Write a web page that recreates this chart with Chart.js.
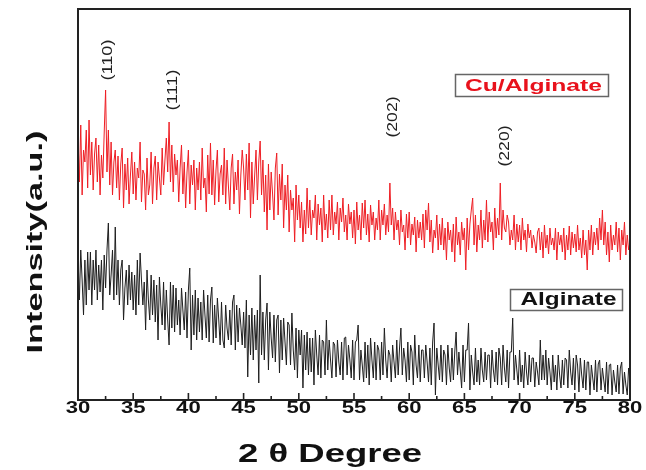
<!DOCTYPE html>
<html>
<head>
<meta charset="utf-8">
<script src="https://cdn.jsdelivr.net/npm/chart.js@4/dist/chart.umd.min.js"></script>
<style>
html,body{margin:0;padding:0;background:#fff;}
#wrap{width:646px;height:470px;}
</style>
</head>
<body>
<div id="wrap"><canvas id="c" width="646" height="470"></canvas></div>
<script>
// scan grid (2θ, degrees)
const scanStart = 30;
const scanStep = 0.125;

// Cu/Alginate intensity (a.u., offset trace) — 8 readings per degree
const cuAlginate = [
262,218,275,205,250,238,270,212, 280,225,258,210,246,262,218,255,
205,245,222,268,310,228,270,215, 258,205,238,250,212,244,200,236,
252,192,236,210,242,196,225,248, 206,238,200,232,222,258,198,230,
226,190,242,205,215,248,196,232, 244,200,238,222,205,252,215,240,
262,228,278,218,255,208,246,225, 240,198,232,255,206,238,192,228,
250,196,235,215,240,190,232,210, 238,200,252,212,222,188,245,206,
257,205,240,195,230,250,198,226, 235,205,252,196,240,214,190,232,
246,196,228,210,240,186,225,250, 232,200,246,210,257,182,238,196,
224,250,200,238,259,205,240,188, 225,170,236,190,228,206,180,232,
247,185,226,200,236,172,215,190, 225,168,210,190,202,158,215,180,
205,172,198,158,190,166,212,172, 200,165,190,182,205,160,196,175,
192,158,205,170,186,162,200,170, 205,165,188,176,198,160,192,178,
202,168,185,160,196,176,188,162, 190,156,198,170,185,160,197,172,
200,165,186,158,195,175,188,160, 182,170,200,160,190,175,196,165,
185,168,217,175,192,160,188,170, 180,155,190,168,175,150,186,162,
188,155,176,165,183,148,180,162, 178,160,186,152,190,170,197,158,
180,147,170,162,185,150,176,155, 182,150,172,140,178,160,170,148,
176,138,183,155,168,145,178,160, 172,130,182,150,176,190,202,155,
185,148,175,160,190,152,180,160, 200,158,188,168,178,150,192,162,
182,165,217,160,190,172,168,185, 178,155,170,160,185,150,176,158,
175,150,182,160,170,148,176,162, 170,152,165,158,147,168,172,150,
168,142,175,152,165,146,172,155, 162,150,172,140,168,155,165,148,
172,140,165,150,174,145,168,152, 166,148,175,150,162,142,170,145,
160,130,170,150,175,145,168,155, 172,150,182,160,190,155,178,145,
168,138,175,150,165,155,178,148, 172,140,170,155,178,145,165,150,
158
];

// Alginate intensity (a.u.) — 8 readings per degree
const alginate = [
145,100,150,120,85,140,95,148, 110,148,95,140,110,150,100,135,
108,140,90,145,112,150,177,105, 125,150,100,173,105,140,95,130,
140,80,112,130,95,135,100,128, 90,125,85,140,95,147,120,95,
118,70,130,100,80,125,85,120, 78,115,60,123,95,75,118,70,
110,80,55,118,72,115,68,112, 75,100,65,112,90,70,108,62,
110,132,50,105,65,110,60,102, 68,98,60,110,85,62,105,58,
100,113,57,95,62,102,80,55, 98,60,52,95,72,60,90,55,
98,105,50,95,58,92,75,55, 88,52,100,23,85,45,92,40,
85,50,90,17,125,45,88,40, 80,97,30,88,62,42,85,38,
80,85,27,80,40,82,58,35, 78,75,35,87,50,30,72,22,
70,45,70,12,65,30,68,25, 62,28,62,15,70,45,25,65,
22,60,58,25,80,30,60,40, 22,58,55,23,60,38,25,58,
20,62,63,25,55,40,22,60, 20,58,60,75,20,50,35,18,
58,22,55,15,62,40,22,58, 20,55,50,20,58,25,72,40,
22,50,45,18,55,38,22,60, 25,52,72,25,52,40,18,58,
20,55,48,15,65,35,22,55, 18,50,50,22,55,38,18,52,
15,58,77,5,52,35,20,55, 18,50,45,15,55,32,18,52,
20,48,68,25,48,30,12,55, 18,50,50,77,10,45,28,15,
52,18,40,15,52,30,18,48, 20,45,45,12,50,30,18,48,
15,52,42,15,55,32,18,50, 12,48,48,82,20,45,30,15,
50,18,35,12,48,28,15,45, 18,42,42,13,38,28,15,60,
20,45,20,50,15,42,28,10, 45,18,35,10,45,25,12,40,
15,42,40,12,50,28,15,42, 10,45,35,8,42,25,12,40,
10,38,38,5,35,22,10,40, 8,36,40,10,32,20,8,38,
6,35,36,5,30,18,8,35, 6,32,38,6,28,15,5,32,
20
];

const xTicks = [30,35,40,45,50,55,60,65,70,75,80];
const xMinorTicks = [32.5,37.5,42.5,47.5,52.5,57.5,62.5,67.5,72.5,77.5];
const peakLabels = ['(110)','(111)','(202)','(220)'];
const peakAngles = [32.7, 38.6, 58.5, 68.7];
const seriesNames = ['Cu/Alginate','Alginate'];
const xTitle = '2 \u03b8 Degree';
const yTitle = 'Intensity(a.u.)';

const toPoints = arr => arr.map((v,i) => ({x: scanStart + i*scanStep, y: v}));

function fitText(ctx, text, cx, cy, font, opts) {
  ctx.save();
  ctx.font = font;
  const w = ctx.measureText(text).width;
  let sx = opts.sx || 1;
  if (opts.width) sx = opts.width / w;
  ctx.translate(cx, cy);
  if (opts.rot) ctx.rotate(opts.rot);
  ctx.scale(sx, 1);
  ctx.textAlign = 'center';
  ctx.textBaseline = 'middle';
  ctx.fillStyle = opts.color || '#111';
  ctx.fillText(text, 0, 0);
  ctx.restore();
}

const decor = {
  id: 'decor',
  afterDraw(chart) {
    const ctx = chart.ctx;
    const a = chart.chartArea;
    const xs = chart.scales.x, ys = chart.scales.y;
    const F = '"Liberation Sans", Arial, sans-serif';
    ctx.save();
    ctx.strokeStyle = '#222';
    ctx.lineWidth = 2;
    ctx.strokeRect(a.left, a.top, a.right - a.left, a.bottom - a.top);
    ctx.lineWidth = 1.6;
    ctx.beginPath();
    xTicks.forEach(t => { const p = xs.getPixelForValue(t); ctx.moveTo(p, a.bottom); ctx.lineTo(p, a.bottom - 7); });
    xMinorTicks.forEach(t => { const p = xs.getPixelForValue(t); ctx.moveTo(p, a.bottom); ctx.lineTo(p, a.bottom - 4); });
    ctx.stroke();
    ctx.restore();
    xTicks.forEach(t => fitText(ctx, String(t), xs.getPixelForValue(t), a.bottom + 9, 'bold 16px ' + F, {sx: 1.38}));
    fitText(ctx, xTitle, 330, 455, 'bold 25px ' + F, {width: 184});
    fitText(ctx, yTitle, 36, 242, 'bold 22px ' + F, {width: 223, rot: -Math.PI/2});
    const labelY = [340, 310, 283, 254];
    peakLabels.forEach((s, i) => {
      fitText(ctx, s, xs.getPixelForValue(peakAngles[i]), ys.getPixelForValue(labelY[i]), '15px ' + F, {width: 41, rot: -Math.PI/2, color: '#222'});
    });
    ctx.save();
    ctx.strokeStyle = '#666';
    ctx.lineWidth = 1.5;
    ctx.strokeRect(455.5, 74.5, 153, 22);
    ctx.strokeRect(510.5, 289.5, 112, 21);
    ctx.restore();
    fitText(ctx, seriesNames[0], 533.5, 86, 'bold 17px ' + F, {width: 137, color: 'rgb(232,18,28)'});
    fitText(ctx, seriesNames[1], 568.5, 300, 'bold 18px ' + F, {width: 96, color: '#111'});
  }
};

new Chart(document.getElementById('c'), {
  type: 'line',
  data: {
    datasets: [
      {label: seriesNames[0], data: toPoints(cuAlginate), borderColor: 'rgb(238,30,36)', borderWidth: 1, pointRadius: 0, tension: 0, fill: false},
      {label: seriesNames[1], data: toPoints(alginate), borderColor: 'rgb(30,30,30)', borderWidth: 1, pointRadius: 0, tension: 0, fill: false}
    ]
  },
  options: {
    responsive: false,
    animation: false,
    layout: {padding: {left: 78, right: 16, top: 9, bottom: 70}},
    plugins: {legend: {display: false}, tooltip: {enabled: false}},
    scales: {
      x: {type: 'linear', min: 30, max: 80, display: false},
      y: {type: 'linear', min: 0, max: 391, display: false}
    }
  },
  plugins: [decor]
});
</script>
</body>
</html>
